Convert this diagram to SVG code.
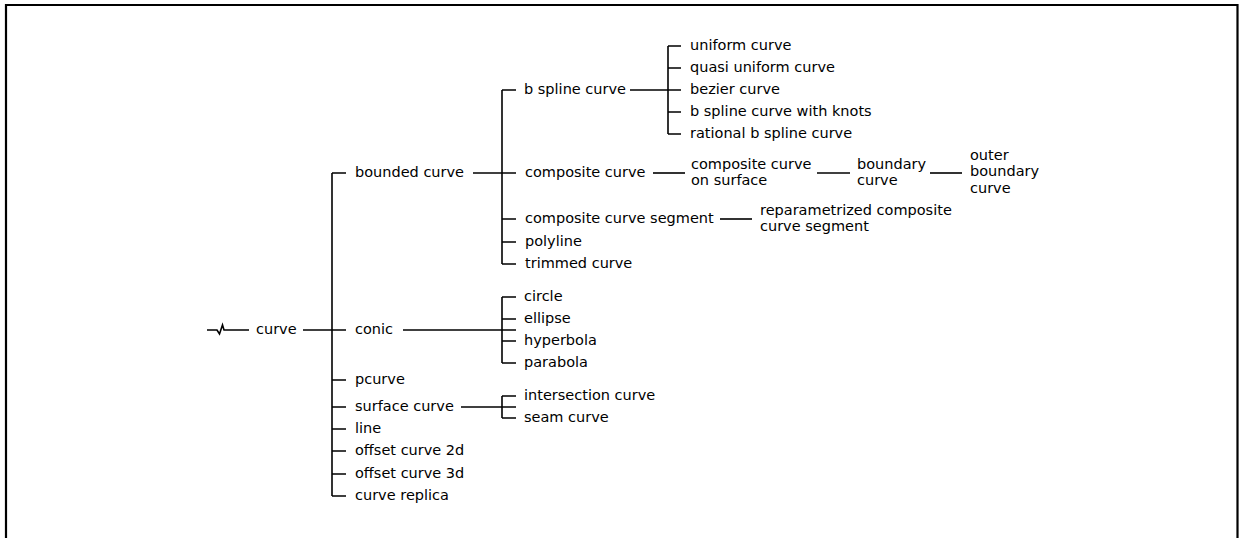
<svg xmlns="http://www.w3.org/2000/svg" width="1239" height="538" viewBox="0 0 1239 538">
<style>
text{font-family:"DejaVu Sans",sans-serif;font-size:14.5px;fill:#000}
.c{fill:none;stroke:#000;stroke-width:1.6}
.f{fill:none;stroke:#000;stroke-width:2.2}
</style>
<rect width="1239" height="538" fill="#fff"/>
<path class="f" d="M6,540 V5 H1237.5 V540"/>
<g id="connectors">
<path class="c" d="M207,330 H217 L219.5,334 L222.5,325 L224,330 H249"/>
<path class="c" d="M303,330 H346"/>
<path class="c" d="M332,173 V496"/>
<path class="c" d="M332,173 H346 M332,380 H346 M332,407 H346 M332,429 H346 M332,451 H346 M332,474 H346 M332,496 H346"/>
<path class="c" d="M473,173 H516"/>
<path class="c" d="M502,90 V264"/>
<path class="c" d="M502,90 H516 M502,219 H516 M502,242 H516 M502,264 H516"/>
<path class="c" d="M630,90 H681"/>
<path class="c" d="M668,46 V134"/>
<path class="c" d="M668,46 H681 M668,68 H681 M668,112 H681 M668,134 H681"/>
<path class="c" d="M653,173 H685"/>
<path class="c" d="M817,173 H850"/>
<path class="c" d="M930,173 H962"/>
<path class="c" d="M720,219 H752"/>
<path class="c" d="M403,330 H516"/>
<path class="c" d="M502,297 V363"/>
<path class="c" d="M502,297 H516 M502,319 H516 M502,341 H516 M502,363 H516"/>
<path class="c" d="M461,407 H516"/>
<path class="c" d="M502,396 V418"/>
<path class="c" d="M502,396 H516 M502,418 H516"/>
</g>
<g id="curve"><text x="256" y="334">curve</text></g>
<g id="bounded_curve"><text x="355" y="177">bounded curve</text></g>
<g id="conic"><text x="355" y="334">conic</text></g>
<g id="pcurve"><text x="355" y="384">pcurve</text></g>
<g id="surface_curve"><text x="355" y="411">surface curve</text></g>
<g id="line"><text x="355" y="433">line</text></g>
<g id="offset_curve_2d"><text x="355" y="455">offset curve 2d</text></g>
<g id="offset_curve_3d"><text x="355" y="478">offset curve 3d</text></g>
<g id="curve_replica"><text x="355" y="500">curve replica</text></g>
<g id="b_spline_curve"><text x="524" y="94">b spline curve</text></g>
<g id="composite_curve"><text x="525" y="177">composite curve</text></g>
<g id="composite_curve_segment"><text x="525" y="223">composite curve segment</text></g>
<g id="polyline"><text x="525" y="246">polyline</text></g>
<g id="trimmed_curve"><text x="525" y="268">trimmed curve</text></g>
<g id="uniform_curve"><text x="690" y="50">uniform curve</text></g>
<g id="quasi_uniform_curve"><text x="690" y="72">quasi uniform curve</text></g>
<g id="bezier_curve"><text x="690" y="94">bezier curve</text></g>
<g id="b_spline_curve_with_knots"><text x="690" y="116">b spline curve with knots</text></g>
<g id="rational_b_spline_curve"><text x="690" y="138">rational b spline curve</text></g>
<g id="composite_curve_on_surface"><text x="691" y="169">composite curve</text><text x="691" y="185">on surface</text></g>
<g id="boundary_curve"><text x="857" y="169">boundary</text><text x="857" y="185">curve</text></g>
<g id="outer_boundary_curve"><text x="970" y="160">outer</text><text x="970" y="176">boundary</text><text x="970" y="193">curve</text></g>
<g id="reparametrized_composite_curve_segment"><text x="760" y="215">reparametrized composite</text><text x="760" y="231">curve segment</text></g>
<g id="circle"><text x="524" y="301">circle</text></g>
<g id="ellipse"><text x="524" y="323">ellipse</text></g>
<g id="hyperbola"><text x="524" y="345">hyperbola</text></g>
<g id="parabola"><text x="524" y="367">parabola</text></g>
<g id="intersection_curve"><text x="524" y="400">intersection curve</text></g>
<g id="seam_curve"><text x="524" y="422">seam curve</text></g>
</svg>
